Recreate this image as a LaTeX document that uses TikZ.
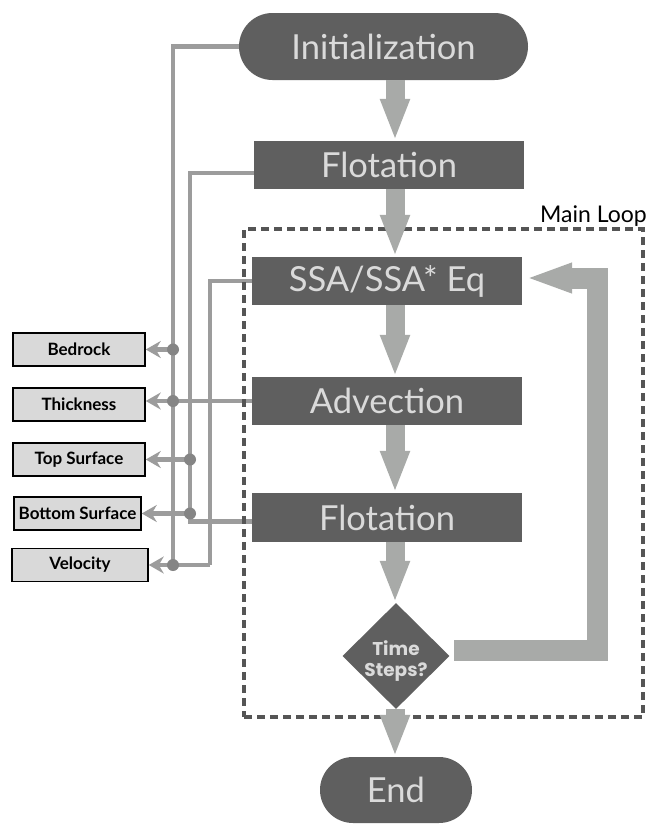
\documentclass[tikz,border=0pt]{standalone}
\usepackage{fontspec}
\setmainfont{Lato}
\newfontfamily\roundbold{Poppins}
\usetikzlibrary{arrows.meta,shapes.geometric,shapes.misc}
\definecolor{boxfill}{HTML}{5F5F5F}
\definecolor{boxtext}{HTML}{DADADA}
\definecolor{arrowgray}{HTML}{A8AAA8}
\definecolor{linegray}{HTML}{9C9C9C}
\definecolor{dotgray}{HTML}{858585}
\definecolor{labelfill}{HTML}{D9D9D9}
\definecolor{dashgray}{HTML}{555555}
\begin{document}
\begin{tikzpicture}[x=1pt,y=-1pt,
 procbox/.style={rectangle, fill=boxfill, text=boxtext, inner sep=0pt, minimum width=270pt, minimum height=48pt, font=\fontsize{34.5}{38}\selectfont},
 pill/.style={rounded rectangle, fill=boxfill, text=boxtext, inner sep=0pt, font=\fontsize{34.5}{38}\selectfont},
 decision/.style={diamond, fill=boxfill, inner sep=0pt, minimum width=107pt, minimum height=106pt},
 dectext/.style={text=boxtext, inner sep=0pt, align=center, font=\roundbold\bfseries\fontsize{18.5}{21}\selectfont},
 outbox/.style={rectangle, fill=labelfill, draw=black, line width=1.5pt, inner sep=0pt, minimum height=33pt, font=\bfseries\fontsize{17}{20}\selectfont},
 flowarrow/.style={draw=arrowgray, line width=19pt, -{Triangle[length=42pt,width=27pt]}},
 loopline/.style={draw=linegray, line width=4.5pt},
 looparrow/.style={loopline, -{Stealth[length=15pt,width=17pt,inset=5pt]}},
 junction/.style={circle, fill=dotgray, inner sep=0pt, minimum size=12pt},
 loopframe/.style={draw=dashgray, line width=3.5pt, dash pattern=on 8pt off 5pt}
]
\fill[white] (0,0) rectangle (651,825);
\useasboundingbox (0,0) rectangle (651,825);

% process nodes
\node[pill, minimum width=289pt, minimum height=67pt] (init) at (383.5,46.5) {Initialization};
\node[procbox] (flot1) at (389,165) {Flotation};
\node[procbox] (ssa) at (387,281) {SSA/SSA* Eq};
\node[procbox] (adv) at (387,401) {Advection};
\node[procbox, minimum height=49pt] (flot2) at (387,517.5) {Flotation};
\node[decision] (dec) at (396,656) {};
\node[dectext] (dectxt) at ([shift={(0,5)}]dec.center) {Time\\Steps?};
\node[pill, minimum width=152pt, minimum height=66pt] (end) at (396,790) {End};

% output boxes
\node[outbox, minimum width=132pt] (bed) at (79,349.5) {Bedrock};
\node[outbox, minimum width=132pt] (thk) at (79,404.5) {Thickness};
\node[outbox, minimum width=132pt] (top) at (79,459.5) {Top Surface};
\node[outbox, minimum width=127pt] (bot) at (77.5,513.5) {Bottom Surface};
\node[outbox, minimum width=136pt] (vel) at (80,565) {Velocity};

\node[anchor=base east, inner sep=0pt, font=\fontsize{23}{26}\selectfont] (mlabel) at (647,222) {Main Loop};

\coordinate (xa) at (173,0);
\coordinate (xb) at (190,0);
\coordinate (xc) at (210,0);
\coordinate (ax) at (395,0);
\coordinate (lc) at (597,0);
\coordinate (f1w) at ([yshift=-8pt]flot1.west);
\coordinate (f2w) at ([yshift=-4pt]flot2.west);
\coordinate (ls) at ([shift={(4.5,-6)}]dec.east);
\coordinate (le) at ([shift={(3,-3)}]ssa.east);

% thin connectors
\draw[loopline] (init.west) -| (xa |- vel.east);
\draw[loopline] (f1w) -| (xb |- f2w) -- (f2w);
\draw[loopline] (ssa.west) -| (xc |- vel.east);
\draw[looparrow] (xc |- vel.east) -- (vel.east);
\draw[looparrow] (adv.west) -- (adv.west -| thk.east);
\draw[looparrow] (xa |- bed.east) -- (bed.east);
\draw[looparrow] (xb |- top.east) -- (top.east);
\draw[looparrow] (xb |- bot.east) -- (bot.east);
\node[junction] (j1) at (xa |- bed.east) {};
\node[junction] (j2) at (xa |- adv.west) {};
\node[junction] (j3) at (xb |- top.east) {};
\node[junction] (j4) at (xb |- bot.east) {};
\node[junction] (j5) at (xa |- vel.east) {};

% main loop frame
\node[loopframe, rectangle, inner sep=0pt, minimum width=399pt, minimum height=488pt] (mainloop) at (443.5,473) {};

% thick flow arrows
\draw[flowarrow] (init.south -| ax) -- (flot1.north -| ax);
\draw[flowarrow] (flot1.south -| ax) -- (ssa.north -| ax);
\draw[flowarrow] (ssa.south -| ax) -- (adv.north -| ax);
\draw[flowarrow] (adv.south -| ax) -- (flot2.north -| ax);
\draw[flowarrow] (flot2.south -| ax) -- (dec.north -| ax);
\draw[flowarrow] (dec.south -| ax) -- (end.north -| ax);
\draw[flowarrow, line width=21pt, -{Triangle[length=47pt,width=27pt]}]
  (ls) -| (lc |- le) -- (le);
\end{tikzpicture}
\end{document}
